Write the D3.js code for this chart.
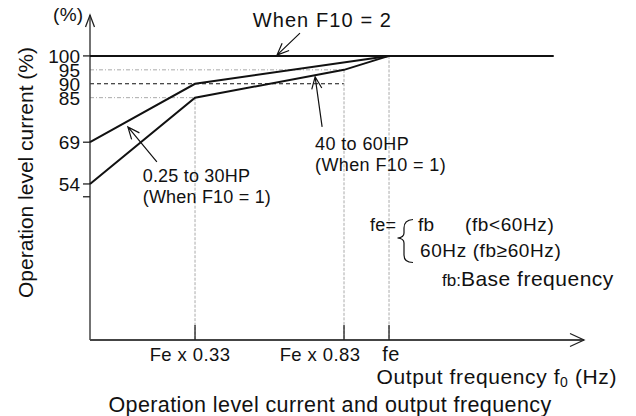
<!doctype html>
<html lang=en>
<head>
  <meta charset="utf-8">
  <title>Operation level current</title>
  <style>
body { margin: 0; background: white; }
text { font-family: "Liberation Sans", Arial, sans-serif; fill: #111; }
  </style>
</head>
<body>
<div id=content></div>
<script src="https://cdn.jsdelivr.net/npm/d3@7"></script>
<script>

  // data (x in units of fe, y in %)
  var f10eq2 = [[0, 100], [1.566, 100]];
  var hp025to30 = [[0, 69], [0.33, 90], [1, 100]];
  var hp40to60 = [[0, 54], [0.33, 85], [0.83, 95], [1, 100]];

  var yLabelTicks = [100, 95, 90, 85, 69, 54];
  var yMarkTicks = [100, 69, 54, 49.4];
  var xTicks = [0.33, 0.83, 1];
  var xTickLabels = ["Fe x 0.33", "Fe x 0.83", "fe"];

  // guide lines: horizontal to x, vertical down from y
  var hGuides = [[95, 0.83], [90, 0.83], [85, 0.33]];
  var vGuides = [[0.33, 85], [0.83, 95], [1, 100]];

  // setup margins for plot area      t, r, b, l
  var m = [15, 52, 76, 90],
      W = 636, H = 416,
      w = W - m[1] - m[3],
      h = H - m[0] - m[2];

  var svg = d3.select("#content").append("svg")
      .attr("width", W)
      .attr("height", H);

  svg.append("rect").attr("width", W).attr("height", H).attr("fill", "white");

  var plt = svg.append("g")
      .attr("transform", "translate(" + m[3] + "," + m[0] + ")");

  // schematic axis, not to scale
  var x = d3.scaleLinear()
      .domain([0, 0.33, 0.83, 1, 1.67])
      .range([0, 0.2126, 0.5142, 0.6053, 1].map(f => f * w));
  var y = d3.scaleLinear()
      .domain([-2.06, 114.7])
      .range([h, 0]);

  var line = d3.line()
      .x(d => x(d[0]))
      .y(d => y(d[1]));

  // guides
  plt.selectAll(".hg").data(hGuides).enter().append("line")
      .attr("x1", 0).attr("x2", d => x(d[1]))
      .attr("y1", d => y(d[0])).attr("y2", d => y(d[0]))
      .attr("stroke", d => d[0] == 90 ? "#111" : "#aaa")
      .attr("stroke-width", d => d[0] == 90 ? 1.2 : 1)
      .attr("stroke-dasharray", d => d[0] == 90 ? "4,3" : "4,2,1,2");
  plt.selectAll(".vg").data(vGuides).enter().append("line")
      .attr("x1", d => x(d[0])).attr("x2", d => x(d[0]))
      .attr("y1", d => y(d[1])).attr("y2", h)
      .attr("stroke", "#aaa")
      .attr("stroke-width", 1)
      .attr("stroke-dasharray", "3,1.5");

  // axes
  var axisCol = "#444";
  plt.append("line").attr("x1", 0).attr("x2", 0).attr("y1", h).attr("y2", 0)
      .attr("stroke", axisCol).attr("stroke-width", 1.5);
  plt.append("line").attr("x1", 0).attr("x2", w).attr("y1", h).attr("y2", h)
      .attr("stroke", axisCol).attr("stroke-width", 1.8);
  plt.append("path").attr("d", "M-4.5,12L0,0L4.5,12")
      .attr("fill", "none").attr("stroke", "#222").attr("stroke-width", 1.3);
  plt.append("path").attr("d", "M" + (w - 14) + "," + (h - 6.5) + "L" + w + "," + h + "L" + (w - 14) + "," + (h + 6.5))
      .attr("fill", "none").attr("stroke", "#222").attr("stroke-width", 1.3);

  plt.selectAll(".ymark").data(yMarkTicks).enter().append("line")
      .attr("x1", -7).attr("x2", 0)
      .attr("y1", d => y(d)).attr("y2", d => y(d))
      .attr("stroke", "#222").attr("stroke-width", 1.3);
  plt.selectAll(".ylab").data(yLabelTicks).enter().append("text")
      .attr("x", -10).attr("y", d => y(d)).attr("dy", "0.36em")
      .attr("text-anchor", "end").style("font-size", "19px")
      .text(d => d);

  plt.selectAll(".xmark").data(xTicks).enter().append("line")
      .attr("x1", d => x(d)).attr("x2", d => x(d))
      .attr("y1", h - 15).attr("y2", h)
      .attr("stroke", "#222").attr("stroke-width", 1.3);
  var xdx = [-5, -24, 2];
  plt.selectAll(".xlab").data(xTicks).enter().append("text")
      .attr("x", (d, i) => x(d) + xdx[i]).attr("y", h + 21)
      .attr("text-anchor", "middle")
      .style("font-size", (d, i) => i == 2 ? "20px" : "18.5px")
      .style("letter-spacing", (d, i) => i == 2 ? "0.5px" : "0.4px")
      .text((d, i) => xTickLabels[i]);

  // lines
  [f10eq2, hp025to30, hp40to60].forEach(function(s) {
    plt.append("path")
        .attr("d", line(s))
        .attr("fill", "none")
        .attr("stroke", "#111")
        .attr("stroke-width", 2)
        .attr("stroke-linejoin", "miter");
  });

  // annotation arrows: tip in data units, tail as offset
  function arrow(tx, ty, dx, dy) {
    var x2 = x(tx), y2 = y(ty), x1 = x2 + dx, y1 = y2 + dy;
    var a = Math.atan2(y1 - y2, x1 - x2), L = 13, s = 0.4;
    var p1 = [x2 + L * Math.cos(a + s), y2 + L * Math.sin(a + s)];
    var p2 = [x2 + L * Math.cos(a - s), y2 + L * Math.sin(a - s)];
    plt.append("path")
        .attr("d", "M" + x1 + "," + y1 + "L" + x2 + "," + y2 +
                   "M" + p1 + "L" + x2 + "," + y2 + "L" + p2)
        .attr("fill", "none").attr("stroke", "#111").attr("stroke-width", 1.2);
  }
  arrow(0.605, 100.3, 23, -22);
  arrow(0.119, 74.5, 29, 35);
  arrow(0.733, 92.5, 7, 50);

  function label(lines, px, py, size, ls) {
    lines.forEach(function(t, i) {
      svg.append("text")
          .attr("x", px).attr("y", py + i * 20.5)
          .style("font-size", size + "px")
          .style("letter-spacing", ls + "px")
          .text(t);
    });
  }
  label(["When F10 = 2"], 252.7, 26.7, 20, 1.1);
  label(["0.25 to 30HP", "(When F10 = 1)"], 142.7, 182, 18, 0.2);
  label(["40 to 60HP", "(When F10 = 1)"], 315, 150, 18, 0.4);
  label(["(%)"], 53, 21, 19, 0.3);

  // fe definition
  label(["fe="], 370, 230.5, 18, 0.2);
  label(["fb"], 418, 230.5, 19, 0.3);
  label(["(fb<60Hz)"], 465, 230.5, 19, 0.6);
  label(["60Hz (fb\u226560Hz)"], 420, 257, 19, 0.6);
  svg.append("path")
      .attr("d", "M413,219.5Q404,220 404,228L404,233Q404,237.5 397.5,238Q404,238.5 404,243L404,255Q404,262.5 413,262.5")
      .attr("fill", "none").attr("stroke", "#111").attr("stroke-width", 1.2);
  var fbt = svg.append("text").attr("x", 442).attr("y", 285.5);
  fbt.append("tspan").style("font-size", "17px").text("fb:");
  fbt.append("tspan").style("font-size", "21px").style("letter-spacing", "0.5px").text("Base frequency");

  // axis titles
  var xt = svg.append("text")
      .attr("x", 617).attr("y", 383.5)
      .attr("text-anchor", "end")
      .style("font-size", "21px").style("letter-spacing", "0.6px");
  xt.append("tspan").text("Output frequency f");
  xt.append("tspan").style("font-size", "14px").attr("dy", 3).text("0");
  xt.append("tspan").attr("dy", -3).text(" (Hz)");

  svg.append("text")
      .attr("transform", "translate(33,172.5) rotate(-90)")
      .attr("text-anchor", "middle")
      .style("font-size", "21px")
      .text("Operation level current (%)");

  svg.append("text")
      .attr("x", 330).attr("y", 412)
      .attr("text-anchor", "middle")
      .style("font-size", "21.5px").style("letter-spacing", "0.4px")
      .text("Operation level current and output frequency");

</script>
</body>
</html>
